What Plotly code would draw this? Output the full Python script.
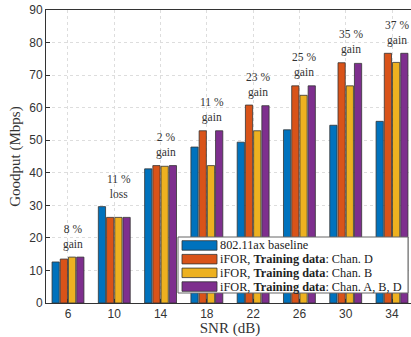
import plotly.graph_objects as go

snr = ["6", "10", "14", "18", "22", "26", "30", "34"]
baseline = [12.6, 29.6, 41.2, 47.9, 49.4, 53.2, 54.6, 55.8]
chan_d = [13.5, 26.3, 42.2, 52.9, 60.8, 66.7, 73.8, 76.7]
chan_b = [14.1, 26.3, 42.0, 42.2, 52.9, 63.8, 66.7, 73.9]
chan_abd = [14.1, 26.3, 42.2, 52.9, 60.6, 66.7, 73.6, 76.7]
gain_labels = ["8 %<br>gain", "11 %<br>loss", "2 %<br>gain", "11 %<br>gain",
               "23 %<br>gain", "25 %<br>gain", "35 %<br>gain", "37 %<br>gain"]
y_ticks = [0, 10, 20, 30, 40, 50, 60, 70, 80, 90]

series = [
    ("802.11ax baseline", baseline, "#0072BD"),
    ("iFOR, <b>Training data</b>: Chan. D", chan_d, "#D95319"),
    ("iFOR, <b>Training data</b>: Chan. B", chan_b, "#EDB120"),
    ("iFOR, <b>Training data</b>: Chan. A, B, D", chan_abd, "#7E2F8E"),
]

SERIF = "Liberation Serif, Times New Roman, serif"
SANS = "Liberation Sans, Arial, sans-serif"
EDGE = "#333333"
TXT = "#333333"

# plot area in page pixels
PL, PR, PT, PB = 46, 414, 10, 303
W, H = 416, 337


def px(sx):
    return (sx - PL) / (PR - PL)


def py(sy):
    return (PB - sy) / (PB - PT)


fig = go.Figure()
for name, vals, col in series:
    fig.add_trace(go.Bar(x=snr, y=vals, name=name, showlegend=False,
                         marker=dict(color=col, line=dict(color=EDGE, width=0.8))))

for i, lab in enumerate(gain_labels):
    top = max(baseline[i], chan_d[i], chan_b[i], chan_abd[i])
    fig.add_annotation(x=i, y=top + 6.3, text=lab, showarrow=False,
                       xshift=5, font=dict(family=SERIF, size=11.5, color=TXT),
                       align="center", yanchor="middle")

# legend box drawn manually (MATLAB-style wide swatches)
shapes = [dict(type="rect", xref="paper", yref="paper", layer="above",
               x0=px(178), x1=px(408), y0=py(293), y1=py(237),
               fillcolor="white", line=dict(color="#666666", width=1))]
for k, (name, vals, col) in enumerate(series):
    top = 240.7 + k * 13.7
    shapes.append(dict(type="rect", xref="paper", yref="paper", layer="above",
                       x0=px(182), x1=px(217), y0=py(top + 9.5), y1=py(top),
                       fillcolor=col, line=dict(color=EDGE, width=0.8)))
    fig.add_annotation(xref="paper", yref="paper", x=px(218), y=py(top + 4.75),
                       text=name, showarrow=False, xanchor="left", yanchor="middle",
                       font=dict(family=SERIF, size=12.3, color="#222222"))

fig.update_layout(
    width=W, height=H,
    margin=dict(l=PL, r=W - PR, t=PT, b=H - PB),
    paper_bgcolor="white", plot_bgcolor="white",
    barmode="group", bargap=0.29, bargroupgap=0.12,
    showlegend=False,
    shapes=shapes,
    font=dict(family=SANS, size=12, color=TXT),
)
fig.update_xaxes(type="category", range=[-0.475, 7.475], automargin=False,
                 showline=True, linecolor=TXT, linewidth=1, mirror=True,
                 ticks="inside", ticklen=4, tickcolor=TXT,
                 showgrid=True, gridcolor="#dddddd", griddash="dot",
                 tickfont=dict(family=SANS, size=12, color=TXT),
                 title=dict(text="SNR (dB)", font=dict(family=SERIF, size=15, color=TXT), standoff=1))
fig.update_yaxes(range=[0, 90], tickvals=y_ticks, automargin=False,
                 showline=True, linecolor=TXT, linewidth=1, mirror=True,
                 ticks="inside", ticklen=4, tickcolor=TXT,
                 showgrid=True, gridcolor="#dddddd", griddash="dot", zeroline=False,
                 tickfont=dict(family=SANS, size=12, color=TXT),
                 title=dict(text="Goodput (Mbps)", font=dict(family=SERIF, size=15, color=TXT), standoff=4))

fig.write_html("out.html", config={"displayModeBar": False},
               post_script="document.body.style.margin='0';document.body.style.overflow='hidden';")
